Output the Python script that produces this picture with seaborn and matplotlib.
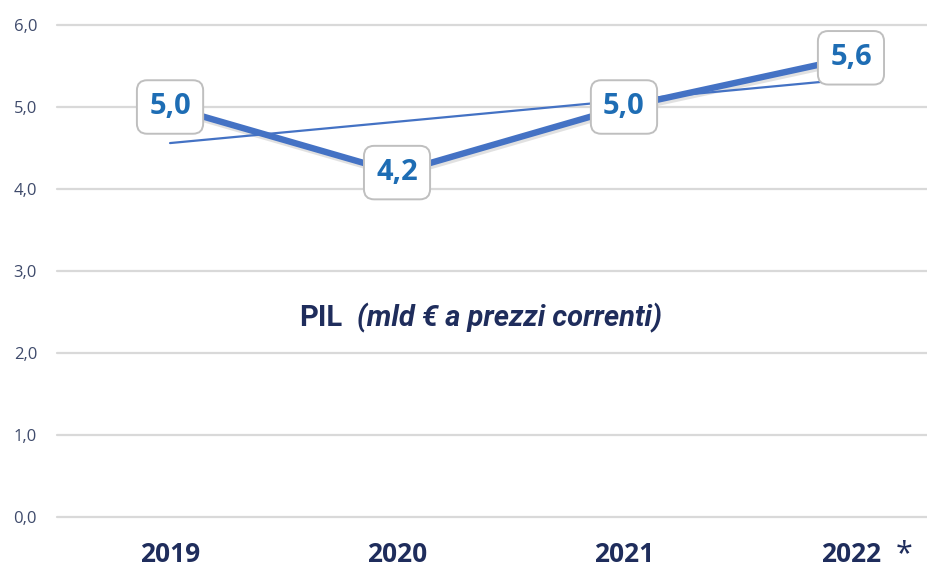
import numpy as np
import pandas as pd
import matplotlib
matplotlib.use("Agg")
import matplotlib.pyplot as plt
import matplotlib.patheffects as pe
import seaborn as sns

# PIL, miliardi di euro a prezzi correnti
years = ["2019", "2020", "2021", "2022"]
pil = [5.0, 4.2, 5.0, 5.6]
y_ticks = [0.0, 1.0, 2.0, 3.0, 4.0, 5.0, 6.0]

df = pd.DataFrame({"pos": np.arange(len(years)), "anno": years, "pil": pil})

sns.set_theme(style="white")
plt.rcParams["font.family"] = ["Open Sans", "DejaVu Sans"]

LINE = "#4472C4"
NAVY = "#1F2D5C"
LABEL = "#1E6DB4"

fig = plt.figure(figsize=(9.27, 5.72), dpi=100)
ax = fig.add_axes([0.061, 0.0962, 0.939, 0.8601])

# grid
for v in y_ticks:
    ax.axhline(v, color="#D9D9D9", lw=1.6, zorder=0, clip_on=False)

# main series
sns.lineplot(data=df, x="pos", y="pil", ax=ax, color=LINE, lw=4.6,
             solid_capstyle="butt", zorder=3,
             path_effects=[pe.SimpleLineShadow(offset=(1, -2), shadow_color="#8a8a8a", alpha=0.25),
                           pe.Normal()])

# linear trend
sns.regplot(data=df, x="pos", y="pil", ax=ax, ci=None, scatter=False,
            line_kws={"color": LINE, "lw": 1.6, "zorder": 4})

# value labels
for x, v in zip(df["pos"], df["pil"]):
    ax.annotate(f"{v:.1f}".replace(".", ","), (x, v), ha="center", va="center",
                fontsize=21, fontweight="bold", color=LABEL, zorder=6,
                bbox=dict(boxstyle="round,pad=0.42,rounding_size=0.35", fc="white",
                          ec="#BFBFBF", lw=1.4))

ax.set_xlim(-0.5, 3.335)
ax.set_ylim(0, 6)
ax.set_yticks(y_ticks)
ax.set_yticklabels([f"{t:.1f}".replace(".", ",") for t in y_ticks],
                   fontsize=12, color="#3E4A6B")
ax.set_xticks(df["pos"])
ax.set_xticklabels(years, fontsize=19, fontweight="bold", color=NAVY)
ax.tick_params(axis="y", length=0, pad=14)
ax.tick_params(axis="x", length=0, pad=17)
ax.set_xlabel("")
ax.set_ylabel("")
for s in ax.spines.values():
    s.set_visible(False)

# asterisk after the last year
ax.annotate("*", xy=(3, 0), xycoords=("data", "axes fraction"), xytext=(38, -27),
            textcoords="offset points", ha="center", va="center",
            fontsize=22, color=NAVY)

# caption inside the plot
ax.text(0.328, 0.404, "PIL", transform=ax.transAxes, ha="right", va="center",
        fontsize=21, fontweight="bold", color=NAVY, family=["Roboto", "DejaVu Sans"])
ax.text(0.345, 0.404, "(mld € a prezzi correnti)", transform=ax.transAxes,
        ha="left", va="center", fontsize=21, fontweight="bold", style="italic",
        color=NAVY, family=["Roboto", "DejaVu Sans"])

fig.savefig("out.png", dpi=100, facecolor="white")
